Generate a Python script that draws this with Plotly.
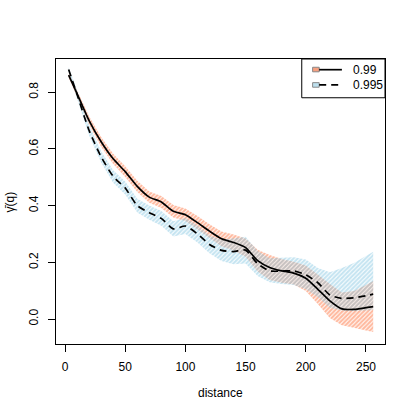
import plotly.graph_objects as go

# distance grid and curve values
distance = [3, 10, 20, 30, 40, 50, 60, 70, 80, 90, 100, 110, 120, 130, 140,
            150, 160, 170, 180, 190, 200, 210, 220, 230, 240, 250, 256]

# level 0.99 (solid line, orange band)
mid_99 = [0.860, 0.795, 0.700, 0.625, 0.565, 0.520, 0.468, 0.430, 0.413, 0.380,
          0.368, 0.340, 0.310, 0.283, 0.270, 0.252, 0.206, 0.182, 0.170, 0.162,
          0.144, 0.105, 0.064, 0.036, 0.034, 0.040, 0.044]
upper_99 = [0.868, 0.807, 0.715, 0.642, 0.583, 0.539, 0.488, 0.450, 0.434, 0.402,
            0.390, 0.363, 0.334, 0.309, 0.298, 0.284, 0.244, 0.226, 0.212, 0.202,
            0.189, 0.157, 0.124, 0.094, 0.099, 0.120, 0.134]
lower_99 = [0.852, 0.783, 0.685, 0.608, 0.547, 0.501, 0.448, 0.410, 0.392, 0.358,
            0.346, 0.317, 0.286, 0.257, 0.242, 0.220, 0.168, 0.138, 0.128, 0.122,
            0.099, 0.053, 0.004, -0.022, -0.031, -0.040, -0.046]

# level 0.995 (dashed line, blue band)
mid_995 = [0.880, 0.792, 0.665, 0.572, 0.503, 0.462, 0.400, 0.375, 0.355, 0.318,
           0.328, 0.300, 0.263, 0.242, 0.238, 0.243, 0.195, 0.170, 0.169, 0.170,
           0.156, 0.128, 0.085, 0.073, 0.075, 0.082, 0.088]
upper_995 = [0.888, 0.807, 0.683, 0.592, 0.525, 0.485, 0.424, 0.400, 0.381, 0.345,
             0.356, 0.330, 0.295, 0.280, 0.285, 0.290, 0.240, 0.214, 0.216, 0.218,
             0.210, 0.180, 0.165, 0.180, 0.198, 0.222, 0.237]
lower_995 = [0.872, 0.777, 0.647, 0.552, 0.481, 0.439, 0.376, 0.350, 0.329, 0.291,
             0.300, 0.270, 0.232, 0.205, 0.193, 0.196, 0.152, 0.130, 0.124, 0.120,
             0.105, 0.078, 0.040, 0.030, 0.028, 0.030, 0.032]

x_ticks = [0, 50, 100, 150, 200, 250]
y_ticks = [0.0, 0.2, 0.4, 0.6, 0.8]
y_tick_text = ['0.0', '0.2', '0.4', '0.6', '0.8']

ORANGE = '#FF7440'
BLUE = '#8CCAE4'
FONT = 'Liberation Sans, Arial, sans-serif'

fig = go.Figure()

def band(lower, upper, color):
    return go.Scatter(
        x=distance + distance[::-1],
        y=upper + lower[::-1],
        fill='toself',
        mode='none',
        fillcolor='rgba(0,0,0,0)',
        fillpattern=dict(shape='/', fgcolor=color, bgcolor='rgba(0,0,0,0)',
                         size=3, solidity=0.7),
        hoverinfo='skip',
        showlegend=False,
    )

fig.add_trace(band(lower_99, upper_99, ORANGE))
fig.add_trace(band(lower_995, upper_995, BLUE))

fig.add_trace(go.Scatter(x=distance, y=mid_99, mode='lines', name='0.99',
                         line=dict(color='black', width=1.7, shape='spline',
                                   smoothing=0.6),
                         showlegend=False))
fig.add_trace(go.Scatter(x=distance, y=mid_995, mode='lines', name='0.995',
                         line=dict(color='black', width=1.7, dash='7px,5px',
                                   shape='spline', smoothing=0.6),
                         showlegend=False))

# hand-drawn legend box in the top right corner (R style)
shapes = [
    dict(type='rect', xref='paper', yref='paper', x0=0.747, x1=1.0, y0=0.864, y1=1.0,
         line=dict(color='black', width=1), fillcolor='white'),
    dict(type='rect', xref='paper', yref='paper', x0=0.780, x1=0.800, y0=0.955, y1=0.971,
         line=dict(color='#888888', width=1), fillcolor='#F7A080'),
    dict(type='line', xref='paper', yref='paper', x0=0.800, x1=0.869, y0=0.9625, y1=0.9625,
         line=dict(color='black', width=1.7)),
    dict(type='rect', xref='paper', yref='paper', x0=0.780, x1=0.800, y0=0.901, y1=0.917,
         line=dict(color='#888888', width=1), fillcolor='#BDE0EE'),
    dict(type='line', xref='paper', yref='paper', x0=0.800, x1=0.869, y0=0.909, y1=0.909,
         line=dict(color='black', width=1.7, dash='7px,5px')),
]

annotations = [
    dict(text='0.99', xref='paper', yref='paper', x=0.897, y=0.9625, xanchor='left',
         yanchor='middle', showarrow=False, font=dict(size=12, color='black')),
    dict(text='0.995', xref='paper', yref='paper', x=0.897, y=0.909, xanchor='left',
         yanchor='middle', showarrow=False, font=dict(size=12, color='black')),
    dict(text='distance', xref='paper', yref='paper', x=0.5, y=-0.172, xanchor='center',
         yanchor='middle', showarrow=False, font=dict(size=12, color='black')),
    dict(text='γ\u0304(q)', xref='paper', yref='paper', x=-0.14, y=0.5, xanchor='center',
         yanchor='middle', textangle=-90, showarrow=False,
         font=dict(size=12, color='black')),
]

fig.update_layout(
    width=415, height=415,
    margin=dict(l=56, r=30, t=59, b=71),
    paper_bgcolor='white', plot_bgcolor='white',
    font=dict(family=FONT, size=12, color='black'),
    shapes=shapes,
    annotations=annotations,
    xaxis=dict(range=[-7.5, 265.8], tickvals=x_ticks, showgrid=False, zeroline=False,
               showline=True, mirror=True, linecolor='black', linewidth=1,
               ticks='outside', ticklen=7, tickcolor='black', ticklabelstandoff=5),
    yaxis=dict(range=[-0.088, 0.917], tickvals=y_ticks, ticktext=y_tick_text,
               showgrid=False, zeroline=False, showline=True, mirror=True,
               linecolor='black', linewidth=1, ticks='outside', ticklen=7,
               tickcolor='black', tickangle=-90, ticklabelstandoff=5),
)

# drop the default page margin so the figure sits at the window's corner
fig.write_html("out.html", config={'displayModeBar': False},
               post_script="document.body.style.margin='0';")
